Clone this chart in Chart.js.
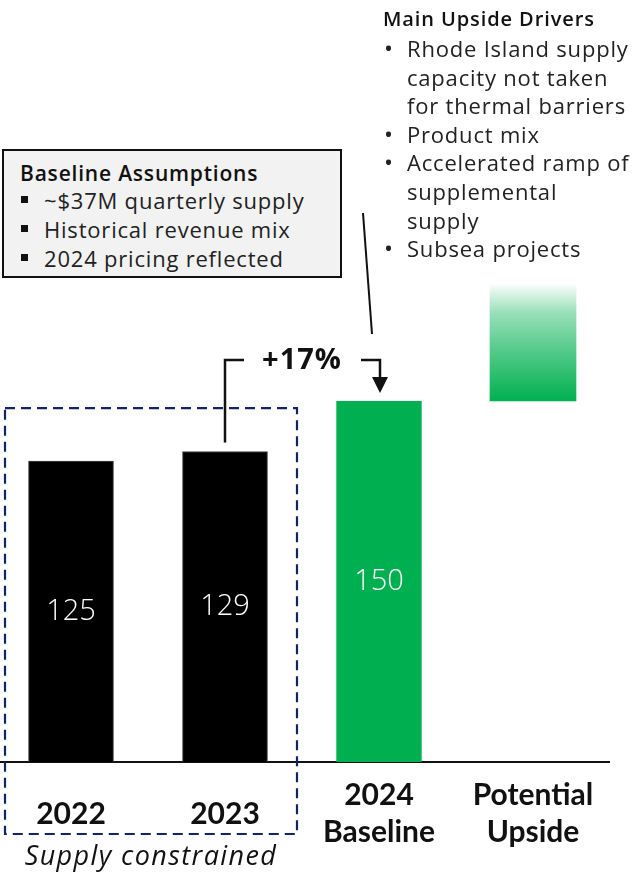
<!DOCTYPE html>
<html>
<head>
<meta charset="utf-8">
<script src="https://cdn.jsdelivr.net/npm/chart.js@4.4.1/dist/chart.umd.min.js"></script>
<style>
  html, body { margin: 0; padding: 0; background: #fff; }
  body { width: 636px; height: 874px; position: relative; overflow: hidden; font-family: "Open Sans", Lato, sans-serif; }
  #wrap { position: absolute; left: -6px; top: 0; width: 616px; height: 874px; }
  .box { position: absolute; left: 2px; top: 149px; width: 336px; height: 125px; background: #f2f2f2; border: 2px solid #111; }
  .box h3 { margin: 0; position: absolute; left: 16px; top: 8px; font-size: 21px; line-height: 28px; font-weight: 600; color: #111; white-space: nowrap; letter-spacing: 0.8px; }
  .box ul, .drivers ul { list-style: none; margin: 0; padding: 0; }
  .box li { position: absolute; left: 40px; font-size: 22px; line-height: 28px; color: #222; white-space: nowrap; letter-spacing: 0.8px; }
  .box li::before { content: ""; position: absolute; left: -23px; top: 10px; width: 7px; height: 7px; background: #111; }
  .drivers { position: absolute; left: 383px; top: 7px; width: 260px; }
  .drivers h3 { margin: 0 0 3px 0; font-size: 20px; font-weight: 600; color: #111; line-height: 24px; white-space: nowrap; letter-spacing: 0.9px; }
  .drivers li { position: relative; padding-left: 24px; font-size: 22px; line-height: 28.6px; color: #222; white-space: nowrap; letter-spacing: 0.8px; }
  .drivers li::before { content: "\2022"; position: absolute; left: 1px; top: 0; font-size: 24px; }
</style>
</head>
<body>
<div id="wrap"><canvas id="c" width="616" height="874"></canvas></div>

<div class="box">
  <h3>Baseline Assumptions</h3>
  <ul>
    <li style="top:35px">~$37M quarterly supply</li>
    <li style="top:64px">Historical revenue mix</li>
    <li style="top:93px">2024 pricing reflected</li>
  </ul>
</div>

<div class="drivers">
  <h3>Main Upside Drivers</h3>
  <ul>
    <li>Rhode Island supply<br>capacity not taken<br>for thermal barriers</li>
    <li>Product mix</li>
    <li>Accelerated ramp of<br>supplemental<br>supply</li>
    <li>Subsea projects</li>
  </ul>
</div>

<script>
// Categories and values (revenue, $M)
const categories = [["2022"], ["2023"], ["2024", "Baseline"], ["Potential", "Upside"]];
const actualValues = [125, 129, 150, null];
const upsideRange = [null, null, null, [150, 199]];
const growthLabel = "+17%";
const groupNote = "Supply constrained";

const GREEN = "#00b050";
const barColors = ["#000000", "#000000", GREEN, GREEN];

const overlay = {
  id: "overlay",
  afterDatasetsDraw(chart) {
    const { ctx, scales: { x, y } } = chart;
    const meta0 = chart.getDatasetMeta(0);

    // value labels centred inside the solid bars
    ctx.save();
    ctx.fillStyle = "#ffffff";
    ctx.font = "300 29px 'Open Sans', sans-serif";
    ctx.textAlign = "center";
    ctx.textBaseline = "middle";
    actualValues.forEach((v, i) => {
      if (v == null) return;
      const el = meta0.data[i];
      ctx.fillText(String(v), el.x, (el.y + el.base) / 2);
    });
    ctx.restore();

    // category labels under the axis, each block centred vertically
    ctx.save();
    ctx.fillStyle = "#111";
    ctx.font = "700 30px Lato, sans-serif";
    ctx.textAlign = "center";
    ctx.textBaseline = "middle";
    const mid = 814, lh = 37;
    categories.forEach((lines, i) => {
      const cx = x.getPixelForValue(i);
      const start = mid - (lines.length - 1) * lh / 2;
      lines.forEach((t, k) => ctx.fillText(t, cx, start + k * lh));
    });
    ctx.restore();

    // dashed box around the supply-constrained years
    const b0 = meta0.data[0], b1 = meta0.data[1], b2 = meta0.data[2];
    const left = b0.x - 66, right = b1.x + 72;
    const top = y.getPixelForValue(147), bottom = 834;
    ctx.save();
    ctx.strokeStyle = "#112566";
    ctx.lineWidth = 2.2;
    ctx.setLineDash([10, 6]);
    ctx.strokeRect(left, top, right - left, bottom - top);
    ctx.restore();

    ctx.save();
    ctx.fillStyle = "#111";
    ctx.font = "italic 400 27px 'Open Sans', sans-serif";
    ctx.letterSpacing = "1.4px";
    ctx.textAlign = "center";
    ctx.textBaseline = "middle";
    ctx.fillText(groupNote, (left + right) / 2, 857);
    ctx.restore();

    // growth bracket from 2023 to 2024 baseline
    const yTop = 360;
    ctx.save();
    ctx.strokeStyle = "#111";
    ctx.fillStyle = "#111";
    ctx.lineWidth = 2.5;
    ctx.beginPath();
    ctx.moveTo(b1.x, b1.y - 9);
    ctx.lineTo(b1.x, yTop);
    ctx.lineTo(b1.x + 19, yTop);
    ctx.moveTo(b2.x - 18, yTop);
    ctx.lineTo(b2.x + 1, yTop);
    ctx.lineTo(b2.x + 1, b2.y - 20);
    ctx.stroke();
    ctx.beginPath();
    ctx.moveTo(b2.x - 7, b2.y - 24);
    ctx.lineTo(b2.x + 9, b2.y - 24);
    ctx.lineTo(b2.x + 1, b2.y - 8);
    ctx.closePath();
    ctx.fill();
    ctx.font = "700 29px 'Open Sans', sans-serif";
    ctx.letterSpacing = "1px";
    ctx.textAlign = "center";
    ctx.textBaseline = "middle";
    ctx.fillText(growthLabel, (b1.x + b2.x) / 2, yTop + 1);
    ctx.restore();

    // leader line from the upside drivers toward the baseline bar
    ctx.save();
    ctx.strokeStyle = "#111";
    ctx.lineWidth = 2;
    ctx.beginPath();
    ctx.moveTo(369, 213);
    ctx.lineTo(378, 334);
    ctx.stroke();
    ctx.restore();
  }
};

new Chart(document.getElementById("c"), {
  type: "bar",
  data: {
    labels: categories.map(l => l.join(" ")),
    datasets: [
      {
        data: actualValues,
        backgroundColor: barColors,
        borderColor: ["#444", "#444", GREEN, GREEN],
        borderWidth: 1,
        barThickness: 85,
        grouped: false
      },
      {
        data: upsideRange,
        backgroundColor(ctx) {
          const c = ctx.chart.ctx, area = ctx.chart.chartArea;
          if (!area) return GREEN;
          const ys = ctx.chart.scales.y;
          const g = c.createLinearGradient(0, ys.getPixelForValue(199), 0, ys.getPixelForValue(150));
          g.addColorStop(0, "rgba(0,176,80,0)");
          g.addColorStop(0.25, "rgba(0,176,80,0.4)");
          g.addColorStop(0.55, "rgba(0,176,80,0.65)");
          g.addColorStop(1, "rgba(0,176,80,1)");
          return g;
        },
        borderWidth: 0,
        borderSkipped: false,
        barThickness: 86,
        grouped: false
      }
    ]
  },
  options: {
    responsive: false,
    animation: false,
    devicePixelRatio: 1,
    layout: { padding: { top: 40, bottom: 112, left: 0, right: 0 } },
    plugins: { legend: { display: false }, tooltip: { enabled: false } },
    scales: {
      x: {
        offset: true,
        grid: { display: false, drawTicks: false },
        border: { display: true, color: "#111", width: 2 },
        ticks: { display: false }
      },
      y: {
        display: false,
        min: 0,
        max: 300
      }
    }
  },
  plugins: [overlay]
});
</script>
</body>
</html>
